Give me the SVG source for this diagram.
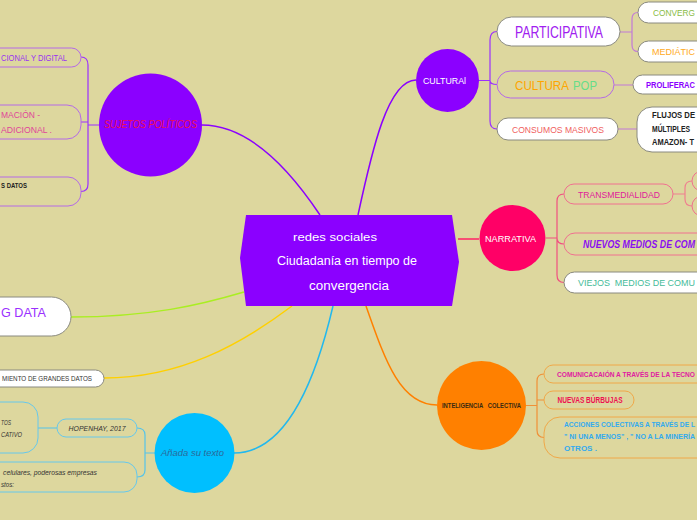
<svg xmlns="http://www.w3.org/2000/svg" width="697" height="520" viewBox="0 0 697 520">
<style>
text{font-family:"Liberation Sans","DejaVu Sans",sans-serif}
.wb{fill:#ffffff;stroke:#8a8a80;stroke-width:1}
.pb{fill:none;stroke:#b56ae6;stroke-width:1}
.nb{fill:none;stroke:#f07090;stroke-width:1}
.ob{fill:none;stroke:#f0a848;stroke-width:1}
.bb{fill:none;stroke:#66c8ec;stroke-width:1}
.ln{fill:none;stroke-width:1.5}
.br{fill:none;stroke-width:1.2}
.w{fill:#ffffff}
</style>
<rect width="697" height="520" fill="#ddd79e"/>

<g id="connectors">
  <path class="ln" stroke="#8b00ff" d="M202,125 C250,125 290,170 320,215"/>
  <path class="ln" stroke="#8b00ff" d="M358,215 C372,150 388,80 416,80"/>
  <path class="ln" stroke="#ff2266" d="M458,239 L479,239"/>
  <path class="ln" stroke="#ff8000" d="M366,306 C385,360 400,405 437,405"/>
  <path class="ln" stroke="#22b8ee" d="M333,306 C318,370 290,453 234,453"/>
  <path class="ln" stroke="#aaee22" d="M71,317 C150,317 200,305 244,292"/>
  <path class="ln" stroke="#ffd000" d="M104,378 C180,378 240,345 292,306"/>
  <path class="br" stroke="#9b30ff" d="M99,125 L88,125 M81,57 Q88,57 88,65 L88,184 Q88,191.5 81,191.5 M88,122 L81,122"/>
  <path class="br" stroke="#9b30ff" d="M479,80.5 L490,80.5 M497,31.5 Q490,31.5 490,40 L490,121 Q490,129 497,129 M490,80.5 Q490,84.5 497,84.5"/>
  <path class="br" stroke="#c27ad8" d="M620,32 L632,32 M638,12.5 Q632,12.5 632,19 L632,45 Q632,51.5 638,51.5 M614,85 L633,85 M618,129 L637,129"/>
  <path class="br" stroke="#f05080" d="M546,238 L557,238 M564,194 Q557,194 557,201 L557,275 Q557,282.5 564,282.5 M557,238 Q557,244 564,244"/>
  <path class="br" stroke="#f08090" d="M673,194 L685,194 M692,181 Q685,181 685,188 L685,199 Q685,206 692,206"/>
  <path class="br" stroke="#f09038" d="M526,405.5 L537,405.5 M544,374 Q537,374 537,381 L537,430 Q537,437.5 544,437.5 M537,400 L544,400"/>
  <path class="br" stroke="#55c4ea" d="M155,453 L145,453 M137,428 Q145,428 145,435 L145,470 Q145,477 137,477 M57,428 L38,428"/>
</g>

<g id="central">
  <polygon points="246,215 452,215 459,262 452,306 246,306 240,258" fill="#8b00ff"/>
  <text x="335" y="241" class="w" font-size="11" text-anchor="middle" textLength="84" lengthAdjust="spacingAndGlyphs">redes sociales</text>
  <text x="347" y="265" class="w" font-size="12.5" text-anchor="middle" textLength="140" lengthAdjust="spacingAndGlyphs">Ciudadanía en tiempo de</text>
  <text x="349" y="290" class="w" font-size="12.5" text-anchor="middle" textLength="80" lengthAdjust="spacingAndGlyphs">convergencia</text>
</g>

<g id="sujetos">
  <circle cx="150.5" cy="125" r="51.5" fill="#8b00ff"/>
  <text x="150.5" y="128" fill="#ee1050" font-size="10" font-style="italic" text-anchor="middle" textLength="93" lengthAdjust="spacingAndGlyphs">SUJETOS POLÍTICOS</text>
</g>
<g id="sujetos-1">
  <rect x="-20" y="48" width="101" height="19" rx="9.5" class="pb"/>
  <text x="1" y="60.5" fill="#9933ee" font-size="8.5" textLength="66" lengthAdjust="spacingAndGlyphs">CIONAL Y DIGITAL</text>
</g>
<g id="sujetos-2">
  <rect x="-20" y="105" width="101" height="34" rx="14" class="pb"/>
  <text x="1" y="117.5" fill="#e0449a" font-size="8.5" textLength="39" lengthAdjust="spacingAndGlyphs">MACIÓN -</text>
  <text x="1" y="132.5" fill="#e0449a" font-size="8.5" textLength="51" lengthAdjust="spacingAndGlyphs">ADICIONAL .</text>
</g>
<g id="sujetos-3">
  <rect x="-20" y="177" width="101" height="29" rx="13" class="pb"/>
  <text x="1" y="188" fill="#222" font-size="7.5" font-weight="bold" textLength="26" lengthAdjust="spacingAndGlyphs">S DATOS</text>
</g>

<g id="cultural">
  <circle cx="447.5" cy="80.5" r="31.5" fill="#8b00ff"/>
  <text x="444.5" y="84" class="w" font-size="9" text-anchor="middle" textLength="43" lengthAdjust="spacingAndGlyphs">CULTURAl</text>
</g>
<g id="participativa">
  <rect x="497" y="17" width="123" height="29" rx="14.5" class="wb"/>
  <text x="559" y="38" fill="#a020f0" font-size="16" text-anchor="middle" textLength="88" lengthAdjust="spacingAndGlyphs">PARTICIPATIVA</text>
</g>
<g id="convergencia">
  <rect x="638" y="2" width="80" height="21" rx="10.5" class="wb"/>
  <text x="653" y="16" fill="#88bb44" font-size="9" textLength="42" lengthAdjust="spacingAndGlyphs">CONVERG</text>
</g>
<g id="mediatica">
  <rect x="638" y="41" width="80" height="21" rx="10.5" class="wb"/>
  <text x="652" y="55" fill="#ffaa22" font-size="9" textLength="43" lengthAdjust="spacingAndGlyphs">MEDIÁTIC</text>
</g>
<g id="cultura-pop">
  <rect x="497" y="71" width="117" height="27" rx="13.5" class="pb"/>
  <text x="515" y="89.5" fill="#ffa500" font-size="13" textLength="54" lengthAdjust="spacingAndGlyphs">CULTURA</text>
  <text x="573" y="89.5" fill="#66dd88" font-size="13" textLength="24" lengthAdjust="spacingAndGlyphs">POP</text>
</g>
<g id="proliferacion">
  <rect x="633" y="75" width="80" height="19" rx="9.5" class="wb"/>
  <text x="646" y="88" fill="#8b00ff" font-size="8.5" font-weight="bold" textLength="49" lengthAdjust="spacingAndGlyphs">PROLIFERAC</text>
</g>
<g id="consumos">
  <rect x="497" y="118" width="121" height="22" rx="11" class="wb"/>
  <text x="558" y="132.5" fill="#f06060" font-size="9" text-anchor="middle" textLength="92" lengthAdjust="spacingAndGlyphs">CONSUMOS MASIVOS</text>
</g>
<g id="flujos">
  <rect x="637" y="107" width="90" height="45" rx="15" class="wb"/>
  <text x="652" y="118" fill="#222" font-size="8.5" font-weight="bold" textLength="43" lengthAdjust="spacingAndGlyphs">FLUJOS DE</text>
  <text x="652" y="131.5" fill="#222" font-size="8.5" font-weight="bold" textLength="38" lengthAdjust="spacingAndGlyphs">MÚLTIPLES</text>
  <text x="652" y="145" fill="#222" font-size="8.5" font-weight="bold" textLength="42" lengthAdjust="spacingAndGlyphs">AMAZON- T</text>
</g>

<g id="narrativa">
  <circle cx="512.5" cy="238" r="33" fill="#ff0066"/>
  <text x="510.5" y="241.5" class="w" font-size="9" text-anchor="middle" textLength="51" lengthAdjust="spacingAndGlyphs">NARRATIVA</text>
</g>
<g id="transmedialidad">
  <rect x="564" y="184" width="109" height="20" rx="10" class="nb"/>
  <text x="619" y="197.5" fill="#e0209a" font-size="9" text-anchor="middle" textLength="82" lengthAdjust="spacingAndGlyphs">TRANSMEDIALIDAD</text>
</g>
<g id="trans-1">
  <rect x="692" y="171" width="30" height="20" rx="10" class="nb"/>
</g>
<g id="trans-2">
  <rect x="692" y="196" width="30" height="20" rx="10" class="nb"/>
</g>
<g id="nuevos-medios">
  <rect x="564" y="233" width="160" height="22" rx="11" class="nb"/>
  <text x="583" y="247.5" fill="#8a10f0" font-size="10" font-weight="bold" font-style="italic" textLength="112" lengthAdjust="spacingAndGlyphs">NUEVOS MEDIOS DE COM</text>
</g>
<g id="viejos-medios">
  <rect x="564" y="272" width="160" height="21" rx="10.5" class="wb"/>
  <text x="578" y="286" fill="#44bb99" font-size="9.5" textLength="117" lengthAdjust="spacingAndGlyphs" xml:space="preserve">VIEJOS  MEDIOS DE COMU</text>
</g>

<g id="inteligencia">
  <circle cx="481.5" cy="405.5" r="44.5" fill="#ff8000"/>
  <text x="481.5" y="408" fill="#3a2a10" font-size="6.5" font-weight="bold" font-family="Liberation Serif,serif" text-anchor="middle" textLength="79" lengthAdjust="spacingAndGlyphs" xml:space="preserve">INTELIGENCIA   COLECTIVA</text>
</g>
<g id="comunicacion">
  <rect x="544" y="365" width="180" height="18" rx="9" class="ob"/>
  <text x="557" y="376.5" fill="#e020a0" font-size="8" font-weight="bold" textLength="138" lengthAdjust="spacingAndGlyphs">COMUNICACAIÓN A TRAVÉS DE LA TECNO</text>
</g>
<g id="burbujas">
  <rect x="544" y="391" width="90" height="18" rx="9" class="ob"/>
  <text x="590" y="403" fill="#ee1050" font-size="8.5" font-weight="bold" text-anchor="middle" textLength="65" lengthAdjust="spacingAndGlyphs">NUEVAS BÚRBUJAS</text>
</g>
<g id="acciones">
  <rect x="544" y="417" width="180" height="41" rx="16" class="ob"/>
  <text x="564" y="427" fill="#33aaee" font-size="8" font-weight="bold" textLength="131" lengthAdjust="spacingAndGlyphs">ACCIONES COLECTIVAS A TRAVÉS DE L</text>
  <text x="564" y="439" fill="#33aaee" font-size="8" font-weight="bold" textLength="131" lengthAdjust="spacingAndGlyphs">" NI UNA MENOS" , " NO A LA MINERÍA</text>
  <text x="564" y="451" fill="#33aaee" font-size="8" font-weight="bold">OTROS .</text>
</g>

<g id="anada">
  <circle cx="194.5" cy="453" r="40" fill="#00bfff"/>
  <text x="192.5" y="456" fill="#2a6a9a" font-size="9" font-style="italic" text-anchor="middle" textLength="63" lengthAdjust="spacingAndGlyphs">Añada su texto</text>
</g>
<g id="hopenhay">
  <rect x="57" y="419" width="80" height="18" rx="9" class="bb"/>
  <text x="97" y="431" fill="#333" font-size="7.5" font-style="italic" text-anchor="middle" textLength="57" lengthAdjust="spacingAndGlyphs">HOPENHAY, 2017</text>
</g>
<g id="hopenhay-1">
  <rect x="-20" y="402" width="58" height="51" rx="15" class="bb"/>
  <text x="1" y="425" fill="#333" font-size="7.5" font-style="italic" textLength="10" lengthAdjust="spacingAndGlyphs">TOS</text>
  <text x="1" y="436.5" fill="#333" font-size="7.5" font-style="italic" textLength="21" lengthAdjust="spacingAndGlyphs">CATIVO</text>
</g>
<g id="celulares">
  <rect x="-20" y="462" width="157" height="30" rx="13" class="bb"/>
  <text x="3" y="474.5" fill="#333" font-size="7" font-style="italic" textLength="94" lengthAdjust="spacingAndGlyphs">celulares, poderosas empresas</text>
  <text x="1" y="487" fill="#333" font-size="7" font-style="italic" textLength="13" lengthAdjust="spacingAndGlyphs">stos:</text>
</g>

<g id="big-data">
  <rect x="-30" y="297" width="101" height="39" rx="19.5" class="wb"/>
  <text x="1" y="317" fill="#9b30ff" font-size="13.5" textLength="45" lengthAdjust="spacingAndGlyphs">G DATA</text>
</g>
<g id="grandes-datos">
  <rect x="-20" y="370" width="124" height="17" rx="8.5" class="wb"/>
  <text x="2" y="381" fill="#333" font-size="7" textLength="90" lengthAdjust="spacingAndGlyphs">MIENTO DE GRANDES DATOS</text>
</g>
</svg>
